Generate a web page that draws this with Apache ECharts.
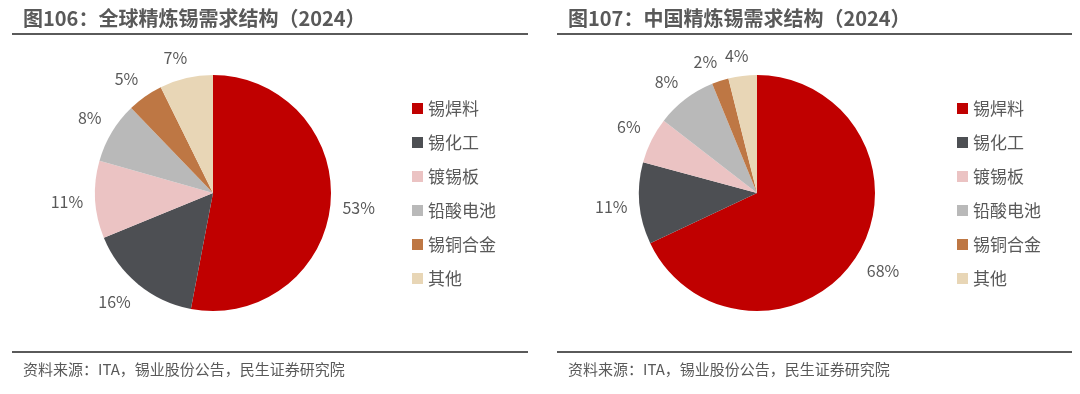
<!DOCTYPE html>
<html>
<head>
<meta charset="utf-8">
<script src="https://cdn.jsdelivr.net/npm/echarts@6/dist/echarts.min.js"></script>
<style>
html,body{margin:0;padding:0;background:#fff;}
#c{width:1080px;height:394px;}
</style>
</head>
<body>
<div id="c"></div>
<script>
var categories = ['锡焊料', '锡化工', '镀锡板', '铅酸电池', '锡铜合金', '其他'];
var globalValues = [53.0, 15.8, 10.6, 8.4, 4.9, 7.3];
var chinaValues = [68.0, 11.2, 6.3, 8.3, 2.3, 3.9];
var colors = ['#C00000', '#4D4F53', '#EBC3C3', '#B9B9B9', '#BE7744', '#E8D6B6'];
var titles = ['图106：全球精炼锡需求结构（2024）', '图107：中国精炼锡需求结构（2024）'];
var sourceText = '资料来源：ITA，锡业股份公告，民生证券研究院';

var FONT = '"Noto Sans CJK SC", "Noto Sans", sans-serif';
var chart = echarts.init(document.getElementById('c'), null, {renderer: 'canvas'});

function mkData(vals) {
  return categories.map(function (n, i) {
    return {name: n, value: vals[i], itemStyle: {color: colors[i]}};
  });
}

function clamp(v) { return Math.max(-1, Math.min(1, v)); }

function layoutFn(params) {
  var pts = params.labelLinePoints;
  if (!pts || pts.length < 2) return {};
  var p0 = pts[0], p1 = pts[1];
  var dx = p1[0] - p0[0], dy = p1[1] - p0[1];
  var len = Math.sqrt(dx * dx + dy * dy) || 1;
  dx /= len; dy /= len;
  var hw = params.labelRect.width / 2, hh = params.labelRect.height / 2;
  var gap = 12;
  var ax = p0[0] + dx * gap, ay = p0[1] + dy * gap;
  return {
    x: ax + hw * clamp(dx * 3),
    y: ay + hh * clamp(dy * 3),
    align: 'center',
    verticalAlign: 'middle'
  };
}

function pieSeries(vals, center) {
  return {
    type: 'pie',
    center: center,
    radius: 118,
    startAngle: 90,
    clockwise: true,
    avoidLabelOverlap: false,
    animation: false,
    data: mkData(vals),
    label: {
      show: true,
      position: 'outside',
      formatter: function (p) { return Math.round(p.value) + '%'; },
      color: '#595959',
      fontSize: 16,
      fontFamily: FONT
    },
    labelLine: {show: true, length: 10, length2: 0, lineStyle: {opacity: 0}},
    labelLayout: layoutFn,
    itemStyle: {borderWidth: 0},
    emphasis: {disabled: true}
  };
}

function legend(left) {
  return {
    orient: 'vertical',
    left: left,
    top: 100,
    padding: 0,
    icon: 'rect',
    itemWidth: 11,
    itemHeight: 11,
    itemGap: 17,
    selectedMode: false,
    data: categories,
    textStyle: {color: '#595959', fontSize: 17, fontFamily: FONT, lineHeight: 17}
  };
}

var titleStyle = {color: '#595959', fontSize: 20, fontWeight: 'bold', fontFamily: FONT};
var srcStyle = {color: '#595959', fontSize: 15, fontWeight: 'normal', fontFamily: FONT};

var option = {
  backgroundColor: '#fff',
  animation: false,
  title: [
    {text: titles[0], left: 23, top: 8, padding: 0, textStyle: titleStyle},
    {text: titles[1], left: 568, top: 8, padding: 0, textStyle: titleStyle},
    {text: sourceText, left: 23, top: 362, padding: 0, textStyle: srcStyle},
    {text: sourceText, left: 568, top: 362, padding: 0, textStyle: srcStyle}
  ],
  legend: [legend(412), legend(957)],
  graphic: [
    {type: 'line', shape: {x1: 12, y1: 34, x2: 528, y2: 34}, style: {stroke: '#5a5a5a', lineWidth: 2}},
    {type: 'line', shape: {x1: 557, y1: 34, x2: 1072, y2: 34}, style: {stroke: '#5a5a5a', lineWidth: 2}},
    {type: 'line', shape: {x1: 12, y1: 352, x2: 528, y2: 352}, style: {stroke: '#5a5a5a', lineWidth: 2}},
    {type: 'line', shape: {x1: 557, y1: 352, x2: 1072, y2: 352}, style: {stroke: '#5a5a5a', lineWidth: 2}}
  ],
  series: [
    pieSeries(globalValues, [213, 193]),
    pieSeries(chinaValues, [757, 193])
  ]
};
chart.setOption(option);
</script>
</body>
</html>
